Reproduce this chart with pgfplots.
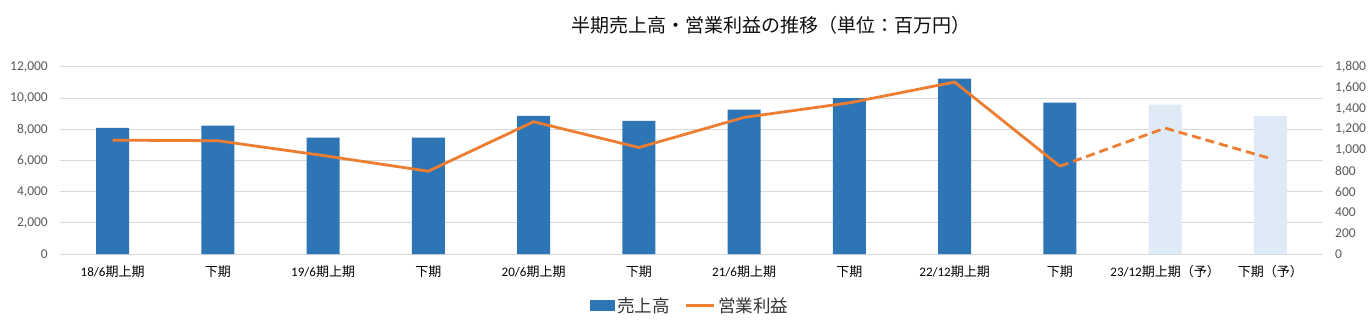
\documentclass[border=0pt]{standalone}
\usepackage{fontspec}
\setmainfont{Carlito}
\newfontfamily\jp{Noto Sans CJK JP}
\usepackage{pgfplots}
\pgfplotsset{compat=1.18}
\definecolor{barblue}{RGB}{46,117,182}
\definecolor{barlight}{RGB}{222,235,247}
\definecolor{lineorange}{RGB}{237,125,49}
\definecolor{gridgray}{RGB}{217,217,217}
\definecolor{ticktext}{RGB}{89,89,89}
\definecolor{titletext}{RGB}{13,13,13}
\begin{document}
\begin{tikzpicture}
\useasboundingbox (0,0) rectangle (1372pt,324pt);
\pgfplotsset{
  base/.style={
    at={(60pt,70pt)}, anchor=south west,
    scale only axis, width=1263pt, height=187pt,
    xmin=-0.5, xmax=11.5,
    axis line style={draw=none},
    major tick length=0pt,
    tick style={draw=none},
    /pgf/number format/assume math mode=true,
    /pgf/number format/1000 sep={,},
    scaled y ticks=false,
    clip=false,
  }
}
\begin{axis}[base,
  ymin=0, ymax=12000,
  ytick={0,2000,...,12000},
  ymajorgrids, grid style={gridgray, line width=1pt},
  yticklabel style={anchor=east, inner sep=0pt, xshift=-12pt, font=\fontsize{13.5}{16}\selectfont, text=ticktext},
  xtick={0,...,11},
  xticklabels={{18/6\jp 期上期},{\jp 下期},{19/6\jp 期上期},{\jp 下期},{20/6\jp 期上期},{\jp 下期},{21/6\jp 期上期},{\jp 下期},{22/12\jp 期上期},{\jp 下期},{23/12\jp 期上期（予）},{\jp 下期（予）}},
  xticklabel style={anchor=center, inner sep=0pt, yshift=-18pt, font=\fontsize{13}{15}\selectfont, text=black},
  title={\jp 半期売上高・営業利益の推移（単位：百万円）},
  title style={at={(0.563,1.1925)}, anchor=center, inner sep=0pt, font=\fontsize{19}{22}\selectfont, text=titletext},
]
\addplot[ybar, bar width=33pt, bar shift=0pt, fill=barblue, draw=none] coordinates {
  (0,8100) (1,8230) (2,7460) (3,7460) (4,8870) (5,8550) (6,9260) (7,10010) (8,11250) (9,9710)
};
\addplot[ybar, bar width=33pt, bar shift=0pt, fill=barlight, draw=none] coordinates {
  (10,9580) (11,8870)
};
\end{axis}
\begin{axis}[base,
  ymin=0, ymax=1800,
  ytick={0,200,...,1800},
  axis y line*=right,
  axis x line=none,
  yticklabel style={anchor=west, inner sep=0pt, xshift=12pt, font=\fontsize{13.5}{16}\selectfont, text=ticktext},
  legend columns=2,
  legend style={at={(0.4992,-0.2754)}, anchor=center, draw=none, fill=none,
    font=\jp\fontsize{17.5}{20}\selectfont, text=ticktext!60!black,
    nodes={inner xsep=3pt},
    /tikz/every even column/.append style={column sep=12pt}},
]
\addlegendimage{legend image code/.code={\fill[barblue] (0pt,-5pt) rectangle (24pt,5.5pt);}}
\addlegendentry{売上高}
\addplot[lineorange, line width=2.8pt, line join=round,
  legend image code/.code={\draw[lineorange, line width=2.8pt] (0pt,0pt) -- (28pt,0pt);}] coordinates {
  (0,1096) (1,1090) (2,948) (3,797) (4,1273) (5,1025) (6,1315) (7,1455) (8,1655) (9,845)
};
\addlegendentry{営業利益}
\addplot[lineorange, line width=2.8pt, dash pattern=on 9pt off 5pt, forget plot] coordinates {
  (9,845) (10,1212) (11,919)
};
\end{axis}
\end{tikzpicture}
\end{document}
